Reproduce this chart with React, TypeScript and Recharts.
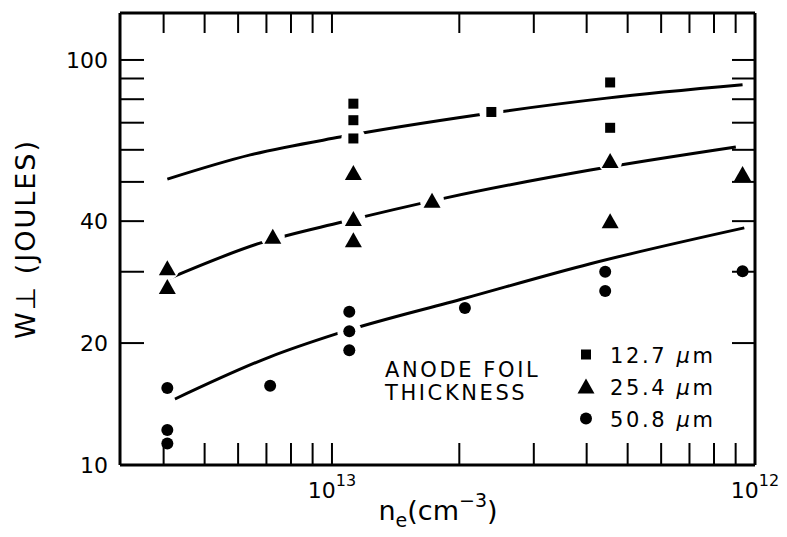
import React from "react";
import { ComposedChart, XAxis, YAxis, Scatter, Legend, Label } from "recharts";

const FONT = "'DejaVu Sans', sans-serif";
const INK = "#000";

// n_e (cm^-3) and W (joules)
const foil127 = [
  { ne: 8.9e12, w: 78 },
  { ne: 8.9e12, w: 71 },
  { ne: 8.9e12, w: 64 },
  { ne: 4.2e12, w: 74.4 },
  { ne: 2.2e12, w: 88 },
  { ne: 2.2e12, w: 68 },
];

const foil254 = [
  { ne: 2.45e13, w: 30.6 },
  { ne: 2.45e13, w: 27.5 },
  { ne: 1.38e13, w: 36.6 },
  { ne: 8.9e12, w: 52.6 },
  { ne: 8.9e12, w: 40.5 },
  { ne: 8.9e12, w: 35.9 },
  { ne: 5.8e12, w: 44.9 },
  { ne: 2.2e12, w: 56.3 },
  { ne: 2.2e12, w: 40 },
  { ne: 1.07e12, w: 52.3 },
];

const foil508 = [
  { ne: 2.45e13, w: 15.5 },
  { ne: 2.45e13, w: 12.2 },
  { ne: 2.45e13, w: 11.3 },
  { ne: 1.4e13, w: 15.7 },
  { ne: 9.1e12, w: 23.9 },
  { ne: 9.1e12, w: 21.4 },
  { ne: 9.1e12, w: 19.2 },
  { ne: 4.85e12, w: 24.4 },
  { ne: 2.26e12, w: 30 },
  { ne: 2.26e12, w: 26.9 },
  { ne: 1.07e12, w: 30.1 },
];

// fitted curves
const fit127 = [
  { ne: 2.45e13, w: 50.8 },
  { ne: 1.56e13, w: 58.3 },
  { ne: 9.57e12, w: 64.5 },
  { ne: 4.54e12, w: 73.1 },
  { ne: 2.24e12, w: 80.5 },
  { ne: 1.07e12, w: 86.8 },
];

const fit254 = [
  { ne: 2.44e13, w: 28.8 },
  { ne: 1.48e13, w: 35.3 },
  { ne: 9.47e12, w: 39.8 },
  { ne: 5.41e12, w: 45.6 },
  { ne: 2.45e12, w: 53.5 },
  { ne: 1.11e12, w: 61 },
];

const fit508 = [
  { ne: 2.35e13, w: 14.55 },
  { ne: 1.4e13, w: 18.5 },
  { ne: 9.73e12, w: 21.1 },
  { ne: 4.85e12, w: 25.8 },
  { ne: 2.45e12, w: 31.4 },
  { ne: 1.06e12, w: 38.5 },
];

// points that the drawn curves are broken around
const curveGaps = [
  foil127[2], foil127[3],
  foil254[0], foil254[2], foil254[4], foil254[6], foil254[7],
  foil508[5],
];

const xTicks = [
  2.5e13, 2e13, 1.6667e13, 1.4286e13, 1.25e13, 1.1111e13, 1e13,
  5e12, 3.3333e12, 2.5e12, 2e12, 1.6667e12, 1.4286e12, 1.25e12, 1.1111e12, 1e12,
];
const xMajor = [1e13, 1e12];
const yTicks = [10, 20, 30, 40, 50, 60, 70, 80, 90, 100];
const yLabeled = [10, 20, 40, 100];

const legendRows = [
  { label: "12.7", kind: "square" },
  { label: "25.4", kind: "triangle" },
  { label: "50.8", kind: "dot" },
];

const Square = ({ cx, cy }: any) => (
  <rect x={cx - 5} y={cy - 5} width={10} height={10} fill={INK} />
);
const Triangle = ({ cx, cy }: any) => (
  <polygon
    points={`${cx},${cy - 8} ${cx + 8.5},${cy + 7} ${cx - 8.5},${cy + 7}`}
    fill={INK}
  />
);
const Dot = ({ cx, cy }: any) => <circle cx={cx} cy={cy} r={6} fill={INK} />;
const Halo = ({ cx, cy }: any) => <circle cx={cx} cy={cy} r={12} fill="#fff" />;
const NoMark = () => <g />;

const BottomTick = ({ x, y, payload }: any) => {
  const v = payload.value;
  return (
    <g>
      <line x1={x} y1={y} x2={x} y2={y - 22} stroke={INK} strokeWidth={2} />
      {xMajor.includes(v) && (
        <text x={x} y={y + 33} textAnchor="middle" fontFamily={FONT} fontSize={22} fill={INK}>
          10<tspan dy={-12} fontSize={16}>{Math.round(Math.log10(v))}</tspan>
        </text>
      )}
    </g>
  );
};

const TopTick = ({ x, y }: any) => (
  <line x1={x} y1={y} x2={x} y2={y + 20} stroke={INK} strokeWidth={2} />
);

const LeftTick = ({ x, y, payload }: any) => (
  <g>
    <line x1={x} y1={y} x2={x + 24} y2={y} stroke={INK} strokeWidth={2} />
    {yLabeled.includes(payload.value) && (
      <text x={x - 12} y={y + 8} textAnchor="end" fontFamily={FONT} fontSize={22} fill={INK}>
        {payload.value}
      </text>
    )}
  </g>
);

const RightTick = ({ x, y }: any) => (
  <line x1={x} y1={y} x2={x - 23} y2={y} stroke={INK} strokeWidth={2} />
);

const YTitle = (props: any) => {
  const vb = props.viewBox || { x: 52, y: 5, width: 60, height: 452 };
  const x = vb.x - 25;
  const y = vb.y + vb.height / 2;
  return (
    <text
      x={x}
      y={y}
      transform={`rotate(-90, ${x}, ${y})`}
      textAnchor="middle"
      fontFamily={FONT}
      fontSize={27}
      letterSpacing={2}
      fill={INK}
    >
      W⊥ (JOULES)
    </text>
  );
};

const XTitle = (props: any) => {
  const vb = props.viewBox || { x: 112, y: 457, width: 635, height: 40 };
  const x = vb.x + 318;
  const y = vb.y + 55;
  return (
    <text x={x} y={y} textAnchor="middle" fontFamily={FONT} fontSize={27} fill={INK}>
      n<tspan dy={7} fontSize={19}>e</tspan>
      <tspan dy={-7}>(cm</tspan>
      <tspan dy={-13} fontSize={19}>−3</tspan>
      <tspan dy={13}>)</tspan>
    </text>
  );
};

const LegendBox = () => (
  <svg width={360} height={100} style={{ overflow: "visible" }}>
    <g fontFamily={FONT} fontSize={21} letterSpacing={2.6} fill={INK}>
      <text x={0} y={37}>ANODE FOIL</text>
      <text x={0} y={60}>THICKNESS</text>
      {legendRows.map((r, i) => {
        const cy = 14.5 + i * 32;
        const Mark = r.kind === "square" ? Square : r.kind === "triangle" ? Triangle : Dot;
        return (
          <g key={r.label}>
            <Mark cx={201} cy={cy} />
            <text x={225} y={cy + 8}>
              {r.label} <tspan fontStyle="italic">μ</tspan>m
            </text>
          </g>
        );
      })}
    </g>
  </svg>
);

const curve = { stroke: INK, strokeWidth: 3, fill: "none" };

export default function App() {
  return (
    <ComposedChart
      width={779}
      height={529}
      margin={{ top: 0, right: 22, bottom: 32, left: 52 }}
      style={{ fontFamily: FONT }}
    >
      <Scatter data={fit127} line={curve} lineJointType="monotoneX" shape={NoMark} isAnimationActive={false} legendType="none" />
      <Scatter data={fit254} line={curve} lineJointType="monotoneX" shape={NoMark} isAnimationActive={false} legendType="none" />
      <Scatter data={fit508} line={curve} lineJointType="monotoneX" shape={NoMark} isAnimationActive={false} legendType="none" />
      <Scatter data={curveGaps} shape={Halo} isAnimationActive={false} legendType="none" />
      <Scatter data={foil127} shape={Square} isAnimationActive={false} />
      <Scatter data={foil254} shape={Triangle} isAnimationActive={false} />
      <Scatter data={foil508} shape={Dot} isAnimationActive={false} />
      <XAxis
        dataKey="ne"
        type="number"
        scale="log"
        domain={[1e12, 3.17e13]}
        allowDataOverflow
        reversed
        ticks={xTicks}
        interval={0}
        tick={<BottomTick />}
        tickLine={false}
        tickSize={0}
        tickMargin={0}
        height={40}
        axisLine={{ stroke: INK, strokeWidth: 3 }}
      >
        <Label content={XTitle} />
      </XAxis>
      <XAxis
        xAxisId="top"
        orientation="top"
        dataKey="ne"
        type="number"
        scale="log"
        domain={[1e12, 3.17e13]}
        allowDataOverflow
        reversed
        ticks={xTicks}
        interval={0}
        tick={<TopTick />}
        tickLine={false}
        tickSize={0}
        tickMargin={0}
        height={5}
        axisLine={{ stroke: INK, strokeWidth: 3 }}
      />
      <YAxis
        dataKey="w"
        type="number"
        scale="log"
        domain={[10, 130.6]}
        allowDataOverflow
        ticks={yTicks}
        interval={0}
        tick={<LeftTick />}
        tickLine={false}
        tickSize={0}
        tickMargin={0}
        width={60}
        axisLine={{ stroke: INK, strokeWidth: 3 }}
      >
        <Label content={YTitle} />
      </YAxis>
      <YAxis
        yAxisId="right"
        orientation="right"
        dataKey="w"
        type="number"
        scale="log"
        domain={[10, 130.6]}
        allowDataOverflow
        ticks={yTicks}
        interval={0}
        tick={<RightTick />}
        tickLine={false}
        tickSize={0}
        tickMargin={0}
        width={10}
        axisLine={{ stroke: INK, strokeWidth: 3 }}
      />
      <Legend
        layout="horizontal"
        verticalAlign="middle"
        align="center"
        content={<LegendBox />}
        wrapperStyle={{ left: 377, top: 332, width: 360, height: 100 }}
      />
    </ComposedChart>
  );
}
